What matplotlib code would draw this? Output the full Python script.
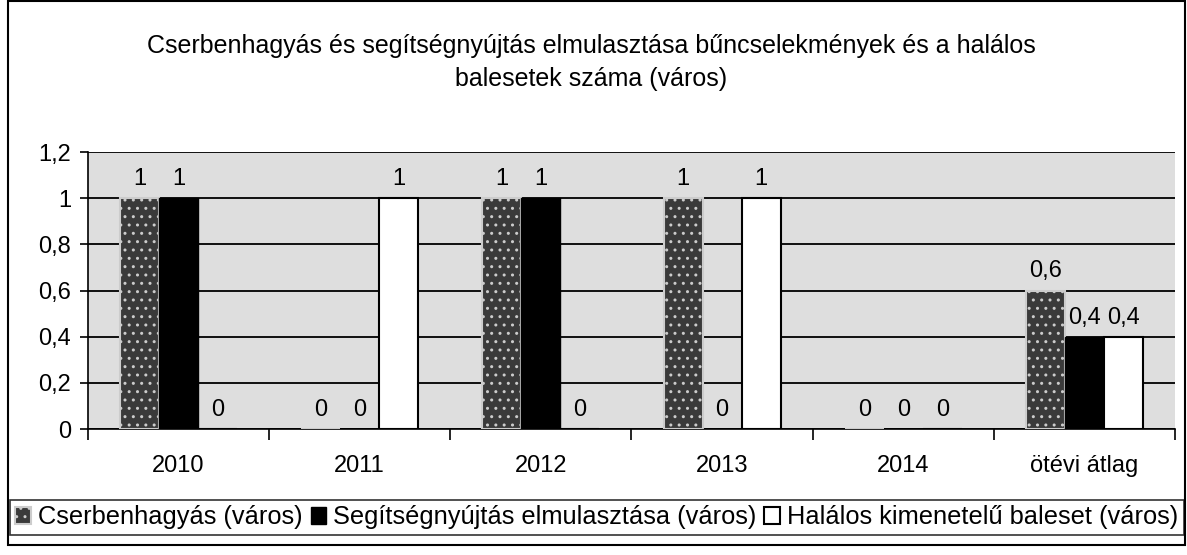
import matplotlib.pyplot as plt
import numpy as np
from matplotlib.patches import Rectangle

plt.rcParams['font.family'] = ['Liberation Sans', 'DejaVu Sans']

# Data
categories = ['2010', '2011', '2012', '2013', '2014', 'ötévi átlag']
cserbenhagyas = [1, 0, 1, 1, 0, 0.6]
segitseg = [1, 0, 1, 0, 0, 0.4]
halalos = [0, 1, 0, 1, 0, 0.4]
series_names = ['Cserbenhagyás (város)',
                'Segítségnyújtás elmulasztása (város)',
                'Halálos kimenetelű baleset (város)']
title = ('Cserbenhagyás és segítségnyújtás elmulasztása bűncselekmények és a halálos\n'
         'balesetek száma (város)')

fig = plt.figure(figsize=(11.87, 5.55), dpi=100)
ax = fig.add_axes([0.074, 0.227, 0.916, 0.499])

# outer frame of the chart
fig.add_artist(Rectangle((0.007, 0.018), 0.991, 0.98, transform=fig.transFigure,
                         fill=False, edgecolor='black', linewidth=1.5))

x = np.arange(len(categories))
w = 0.215
styles = [
    dict(facecolor='#3a3a3a', edgecolor='#cccccc', hatch='..', linewidth=1.5),
    dict(facecolor='black', edgecolor='black', linewidth=1),
    dict(facecolor='white', edgecolor='black', linewidth=1.5),
]
all_series = [cserbenhagyas, segitseg, halalos]
handles = []
for i, (vals, st) in enumerate(zip(all_series, styles)):
    pos = x + (i - 1) * w
    bars = ax.bar(pos, vals, w, zorder=3, **st)
    handles.append(bars)
    for p, v in zip(pos, vals):
        ax.text(p, v + 0.035, ('%g' % v).replace('.', ','), ha='center', va='bottom',
                fontsize=17, zorder=4)

ax.set_facecolor('#dedede')
ax.set_xlim(-0.5, len(categories) - 0.5)
ax.set_ylim(0, 1.2)
yt = np.arange(0, 1.21, 0.2)
ax.set_yticks(yt)
ax.set_yticklabels([('%g' % t).replace('.', ',') for t in yt], fontsize=17)
ax.yaxis.grid(True, color='black', linewidth=1.3, zorder=1)
ax.set_axisbelow(True)

ax.set_xticks(x)
ax.set_xticklabels(categories, fontsize=17)
ax.tick_params(axis='x', length=0, pad=19)
ax.set_xticks(np.arange(-0.5, len(categories)), minor=True)
ax.tick_params(axis='x', which='minor', length=8, width=1.2)
ax.tick_params(axis='y', length=6, width=1.2, pad=6)

for s in ['top', 'right']:
    ax.spines[s].set_visible(False)
ax.spines['left'].set_linewidth(1.2)
ax.spines['bottom'].set_linewidth(1.2)

fig.text(0.498, 0.887, title, ha='center', va='center', fontsize=18, linespacing=1.45)

leg = fig.legend(handles, series_names, loc='lower center', bbox_to_anchor=(0.503, 0.014),
                 ncol=3, fontsize=18.3, frameon=True, fancybox=False, edgecolor='black',
                 handlelength=0.6, handleheight=0.6, handletextpad=0.3, columnspacing=0.3,
                 borderpad=0.2)
leg.get_frame().set_linewidth(1.2)

fig.savefig('out.png', dpi=100)
